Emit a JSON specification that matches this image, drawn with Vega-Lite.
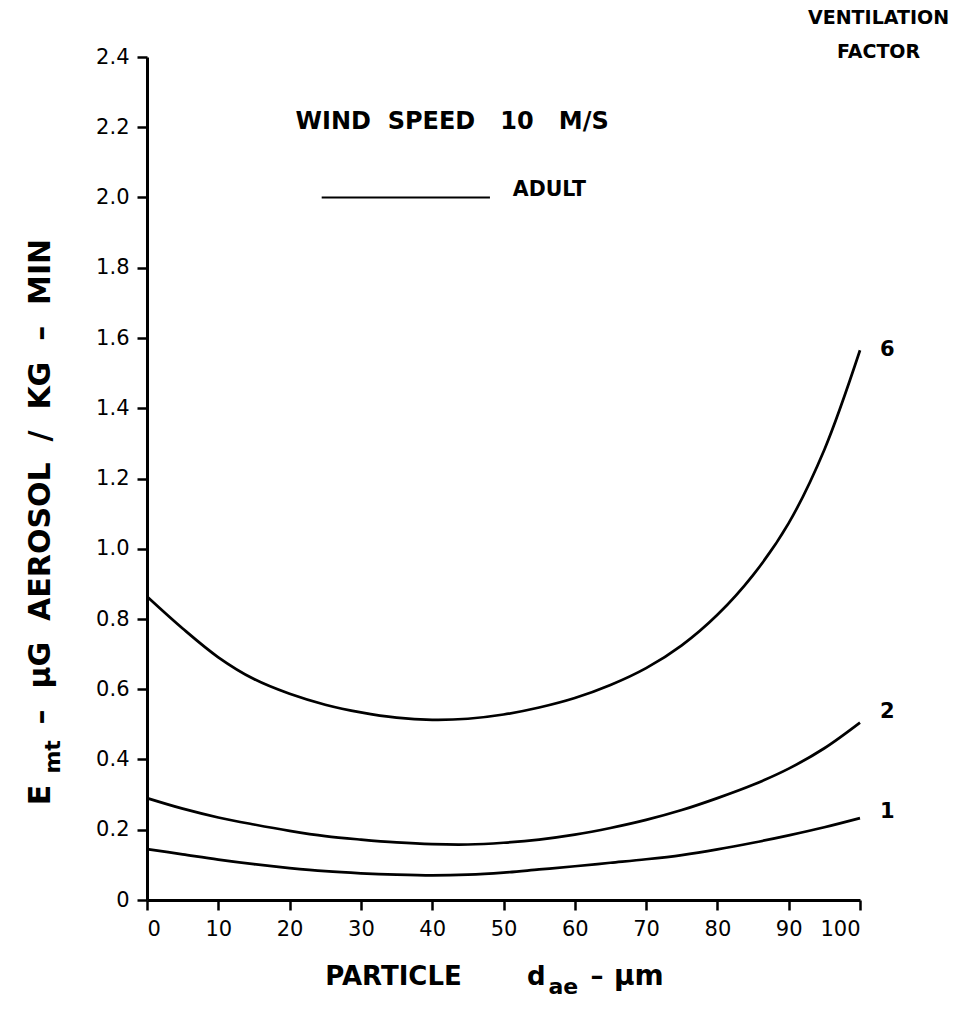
{
  "$schema": "https://vega.github.io/schema/vega-lite/v6.json",
  "width": 713,
  "height": 843,
  "autosize": "none",
  "padding": {"left": 147, "top": 57, "right": 103, "bottom": 119},
  "background": "white",
  "config": {
    "view": {"stroke": null},
    "font": "DejaVu Sans",
    "text": {"font": "DejaVu Sans", "fontWeight": "bold", "color": "black"},
    "axis": {
      "domainColor": "black",
      "domainWidth": 3,
      "tickColor": "black",
      "tickWidth": 2.5,
      "tickSize": 10,
      "labelColor": "black",
      "labelFont": "DejaVu Sans",
      "labelFontSize": 21,
      "grid": false,
      "title": null
    }
  },
  "datasets": {
    "curves": [
      {"d": 0, "e": 0.864, "vf": "6"}, {"d": 5, "e": 0.773, "vf": "6"}, {"d": 10, "e": 0.691, "vf": "6"},
      {"d": 15, "e": 0.629, "vf": "6"}, {"d": 20, "e": 0.587, "vf": "6"}, {"d": 25, "e": 0.556, "vf": "6"},
      {"d": 30, "e": 0.534, "vf": "6"}, {"d": 35, "e": 0.519, "vf": "6"}, {"d": 40, "e": 0.513, "vf": "6"},
      {"d": 45, "e": 0.516, "vf": "6"}, {"d": 50, "e": 0.528, "vf": "6"}, {"d": 55, "e": 0.548, "vf": "6"},
      {"d": 60, "e": 0.575, "vf": "6"}, {"d": 65, "e": 0.612, "vf": "6"}, {"d": 70, "e": 0.66, "vf": "6"},
      {"d": 75, "e": 0.725, "vf": "6"}, {"d": 80, "e": 0.812, "vf": "6"}, {"d": 85, "e": 0.925, "vf": "6"},
      {"d": 90, "e": 1.073, "vf": "6"}, {"d": 95, "e": 1.282, "vf": "6"}, {"d": 100, "e": 1.565, "vf": "6"},
      {"d": 0, "e": 0.29, "vf": "2"}, {"d": 5, "e": 0.26, "vf": "2"}, {"d": 10, "e": 0.235, "vf": "2"},
      {"d": 15, "e": 0.215, "vf": "2"}, {"d": 20, "e": 0.197, "vf": "2"}, {"d": 25, "e": 0.182, "vf": "2"},
      {"d": 30, "e": 0.172, "vf": "2"}, {"d": 35, "e": 0.164, "vf": "2"}, {"d": 40, "e": 0.159, "vf": "2"},
      {"d": 45, "e": 0.158, "vf": "2"}, {"d": 50, "e": 0.163, "vf": "2"}, {"d": 55, "e": 0.172, "vf": "2"},
      {"d": 60, "e": 0.186, "vf": "2"}, {"d": 65, "e": 0.205, "vf": "2"}, {"d": 70, "e": 0.228, "vf": "2"},
      {"d": 75, "e": 0.256, "vf": "2"}, {"d": 80, "e": 0.29, "vf": "2"}, {"d": 85, "e": 0.328, "vf": "2"},
      {"d": 90, "e": 0.374, "vf": "2"}, {"d": 95, "e": 0.432, "vf": "2"}, {"d": 100, "e": 0.505, "vf": "2"},
      {"d": 0, "e": 0.145, "vf": "1"}, {"d": 5, "e": 0.13, "vf": "1"}, {"d": 10, "e": 0.115, "vf": "1"},
      {"d": 15, "e": 0.102, "vf": "1"}, {"d": 20, "e": 0.091, "vf": "1"}, {"d": 25, "e": 0.082, "vf": "1"},
      {"d": 30, "e": 0.076, "vf": "1"}, {"d": 35, "e": 0.072, "vf": "1"}, {"d": 40, "e": 0.07, "vf": "1"},
      {"d": 45, "e": 0.072, "vf": "1"}, {"d": 50, "e": 0.078, "vf": "1"}, {"d": 55, "e": 0.087, "vf": "1"},
      {"d": 60, "e": 0.096, "vf": "1"}, {"d": 65, "e": 0.106, "vf": "1"}, {"d": 70, "e": 0.116, "vf": "1"},
      {"d": 75, "e": 0.128, "vf": "1"}, {"d": 80, "e": 0.144, "vf": "1"}, {"d": 85, "e": 0.163, "vf": "1"},
      {"d": 90, "e": 0.184, "vf": "1"}, {"d": 95, "e": 0.207, "vf": "1"}, {"d": 100, "e": 0.233, "vf": "1"}
    ],
    "endLabels": [
      {"d": 100, "e": 1.565, "vf": "6"},
      {"d": 100, "e": 0.535, "vf": "2"},
      {"d": 100, "e": 0.25, "vf": "1"}
    ],
    "legendLine": [
      {"d": 24.5, "e": 2.0},
      {"d": 48.1, "e": 2.0}
    ],
    "centeredNotes": [
      {"d": 42.8, "e": 2.215, "txt": "WIND\u00a0\u00a0SPEED\u00a0\u00a0\u00a010\u00a0\u00a0\u00a0M/S", "size": 24},
      {"d": 102.6, "e": 2.51, "txt": "VENTILATION", "size": 19},
      {"d": 102.6, "e": 2.414, "txt": "FACTOR", "size": 19}
    ],
    "leftNotes": [
      {"d": 51.3, "e": 2.02, "txt": "ADULT", "size": 20.5}
    ],
    "xTitle": [
      {"d": 25.0, "e": -0.242, "txt": "PARTICLE", "size": 26},
      {"d": 53.3, "e": -0.242, "txt": "d", "size": 26},
      {"d": 56.3, "e": -0.268, "txt": "ae", "size": 22},
      {"d": 62.2, "e": -0.242, "txt": "–", "size": 26},
      {"d": 65.5, "e": -0.242, "txt": "μm", "size": 28}
    ],
    "yTitle": [
      {"d": -13.6, "e": 0.27, "txt": "E", "size": 30},
      {"d": -12.2, "e": 0.36, "txt": "mt", "size": 22},
      {"d": -13.6, "e": 0.5, "txt": "–\u00a0\u00a0μG\u00a0\u00a0AEROSOL\u00a0\u00a0/\u00a0\u00a0KG\u00a0\u00a0–\u00a0\u00a0MIN", "size": 30}
    ]
  },
  "layer": [
    {
      "data": {"name": "curves"},
      "mark": {"type": "line", "color": "black", "strokeWidth": 2.7, "interpolate": "catmull-rom"},
      "encoding": {
        "x": {
          "field": "d", "type": "quantitative",
          "scale": {"domain": [0, 100], "nice": false},
          "axis": {"values": [0, 10, 20, 30, 40, 50, 60, 70, 80, 90, 100], "labelPadding": 8}
        },
        "y": {
          "field": "e", "type": "quantitative",
          "scale": {"domain": [0, 2.4], "nice": false},
          "axis": {
            "values": [0, 0.2, 0.4, 0.6, 0.8, 1.0, 1.2, 1.4, 1.6, 1.8, 2.0, 2.2, 2.4],
            "labelExpr": "datum.value == 0 ? '0' : format(datum.value, '.1f')",
            "labelPadding": 8
          }
        },
        "detail": {"field": "vf"}
      }
    },
    {
      "data": {"name": "endLabels"},
      "mark": {"type": "text", "dx": 20, "align": "left", "baseline": "middle", "fontSize": 21},
      "encoding": {
        "x": {"field": "d", "type": "quantitative"},
        "y": {"field": "e", "type": "quantitative"},
        "text": {"field": "vf"}
      }
    },
    {
      "data": {"name": "legendLine"},
      "mark": {"type": "line", "color": "black", "strokeWidth": 2.2},
      "encoding": {
        "x": {"field": "d", "type": "quantitative"},
        "y": {"field": "e", "type": "quantitative"}
      }
    },
    {
      "data": {"name": "centeredNotes"},
      "mark": {"type": "text", "align": "center", "baseline": "middle"},
      "encoding": {
        "x": {"field": "d", "type": "quantitative"},
        "y": {"field": "e", "type": "quantitative"},
        "text": {"field": "txt"},
        "size": {"field": "size", "type": "quantitative", "scale": null}
      }
    },
    {
      "data": {"name": "leftNotes"},
      "mark": {"type": "text", "align": "left", "baseline": "middle"},
      "encoding": {
        "x": {"field": "d", "type": "quantitative"},
        "y": {"field": "e", "type": "quantitative"},
        "text": {"field": "txt"},
        "size": {"field": "size", "type": "quantitative", "scale": null}
      }
    },
    {
      "data": {"name": "xTitle"},
      "mark": {"type": "text", "align": "left", "baseline": "alphabetic"},
      "encoding": {
        "x": {"field": "d", "type": "quantitative"},
        "y": {"field": "e", "type": "quantitative"},
        "text": {"field": "txt"},
        "size": {"field": "size", "type": "quantitative", "scale": null}
      }
    },
    {
      "data": {"name": "yTitle"},
      "mark": {"type": "text", "align": "left", "baseline": "alphabetic", "angle": 270},
      "encoding": {
        "x": {"field": "d", "type": "quantitative"},
        "y": {"field": "e", "type": "quantitative"},
        "text": {"field": "txt"},
        "size": {"field": "size", "type": "quantitative", "scale": null}
      }
    }
  ]
}
